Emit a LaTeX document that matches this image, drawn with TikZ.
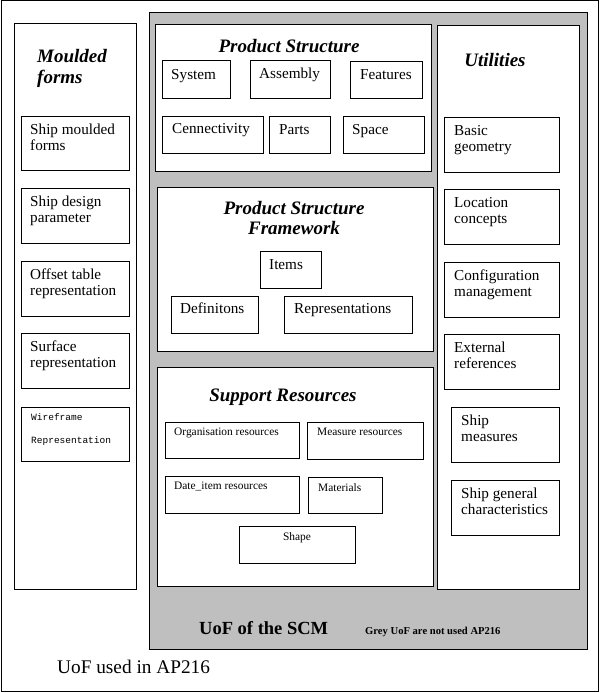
\documentclass[tikz,border=0pt]{standalone}
\usepackage{fontspec}
\setmainfont{Liberation Serif}
\setmonofont{Liberation Mono}

\tikzset{
  box/.style={draw=black, fill=white, line width=1pt},
  lbl/.style={anchor=north west, inner sep=0pt, align=left, font=\fontsize{15.2}{16}\selectfont},
  small/.style={anchor=north west, inner sep=0pt, font=\fontsize{11.4}{12}\selectfont},
  heading/.style={inner sep=0pt, align=center, font=\fontsize{19}{20}\selectfont\bfseries\itshape},
}

\begin{document}
\begin{tikzpicture}[x=1pt, y=-1pt]
    \useasboundingbox (0, 0) rectangle (600, 693);
    \draw [line width=1pt] (1, 1) rectangle (598, 691);

    % left column
    \draw [box] (14, 24) rectangle (136, 589);
    \node [heading, anchor=west, align=left, font=\fontsize{19}{21}\selectfont\bfseries\itshape] (moulded) at (37, 68.5) {Moulded\\forms};
    \draw [box] (21, 116) rectangle (129, 170);
    \node [lbl] (shipmoulded) at (30, 124) {Ship moulded\\forms};
    \draw [box] (21, 188) rectangle (129, 243);
    \node [lbl] (designparam) at (30, 196) {Ship design\\parameter};
    \draw [box] (21, 261) rectangle (129, 316);
    \node [lbl] (offset) at (30, 269) {Offset table\\representation};
    \draw [box] (21, 333) rectangle (129, 388);
    \node [lbl] (surface) at (30, 341) {Surface\\representation};
    \draw [box] (21, 407) rectangle (129, 461);
    \node [lbl, font=\ttfamily\fontsize{9.5}{23}\selectfont] (wireframe) at (31, 413) {Wireframe\\Representation};

    % grey SCM area
    \draw [fill=black!25, line width=1pt] (149, 13) rectangle (587, 649);
    \node [anchor=west, inner sep=0pt, font=\fontsize{18.5}{20}\selectfont\bfseries] (scm) at (199, 628) {UoF of the SCM};
    \node [anchor=west, inner sep=0pt, font=\fontsize{10.6}{12}\selectfont\bfseries] (greynote) at (365, 632) {Grey UoF are not used AP216};

    % product structure
    \draw [box] (155, 25) rectangle (431, 171);
    \node [heading] (prodstruct) at (289, 46) {Product Structure};
    \draw [box] (162, 61) rectangle (230, 98);
    \node [lbl] (system) at (171, 69) {System};
    \draw [box] (250, 61) rectangle (330, 98);
    \node [lbl] (assembly) at (259, 68) {Assembly};
    \draw [box] (350, 62) rectangle (422, 98);
    \node [lbl] (features) at (360, 69) {Features};
    \draw [box] (162, 116) rectangle (263, 153);
    \node [lbl] (connect) at (172, 123) {Cennectivity};
    \draw [box] (269, 116) rectangle (330, 153);
    \node [lbl] (parts) at (279, 124) {Parts};
    \draw [box] (343, 116) rectangle (424, 153);
    \node [lbl] (space) at (352, 124) {Space};

    % product structure framework
    \draw [box] (157, 187) rectangle (433, 351);
    \node [heading] (framework) at (294, 218) {Product Structure\\Framework};
    \draw [box] (260, 251) rectangle (321, 288);
    \node [lbl] (items) at (269, 259) {Items};
    \draw [box] (171, 296) rectangle (258, 333);
    \node [lbl] (defs) at (180, 303) {Definitons};
    \draw [box] (284, 296) rectangle (412, 333);
    \node [lbl] (reps) at (294, 303) {Representations};

    % support resources
    \draw [box] (157, 367) rectangle (433, 586);
    \node [heading] (support) at (283, 397) {Support Resources};
    \draw [box] (165, 422) rectangle (299, 458);
    \node [small] (organisation) at (174, 428) {Organisation resources};
    \draw [box] (307, 422) rectangle (423, 459);
    \node [small] (measure) at (317, 428) {Measure resources};
    \draw [box] (165, 476) rectangle (299, 513);
    \node [small] (dateitem) at (174, 482) {Date\_item resources};
    \draw [box] (308, 477) rectangle (382, 513);
    \node [small] (materials) at (318, 483) {Materials};
    \draw [box] (239, 526) rectangle (355, 563);
    \node [small, anchor=north] (shape) at (297, 532) {Shape};

    % utilities
    \draw [box] (437, 26) rectangle (579, 589);
    \node [heading] (utilities) at (495, 60) {Utilities};
    \draw [box] (444, 117) rectangle (559, 172);
    \node [lbl] (basicgeo) at (454, 125) {Basic\\geometry};
    \draw [box] (444, 189) rectangle (559, 244);
    \node [lbl] (location) at (454, 197) {Location\\concepts};
    \draw [box] (444, 262) rectangle (559, 317);
    \node [lbl] (config) at (454, 270) {Configuration\\management};
    \draw [box] (444, 334) rectangle (559, 389);
    \node [lbl] (external) at (454, 342) {External\\references};
    \draw [box] (451, 407) rectangle (559, 462);
    \node [lbl] (shipmeasures) at (461, 415) {Ship\\measures};
    \draw [box] (451, 480) rectangle (559, 535);
    \node [lbl] (shipgeneral) at (461, 488) {Ship general\\characteristics};

    \node [anchor=west, inner sep=0pt, font=\fontsize{19.3}{20}\selectfont] (used) at (57, 667) {UoF used in AP216};
\end{tikzpicture}
\end{document}
